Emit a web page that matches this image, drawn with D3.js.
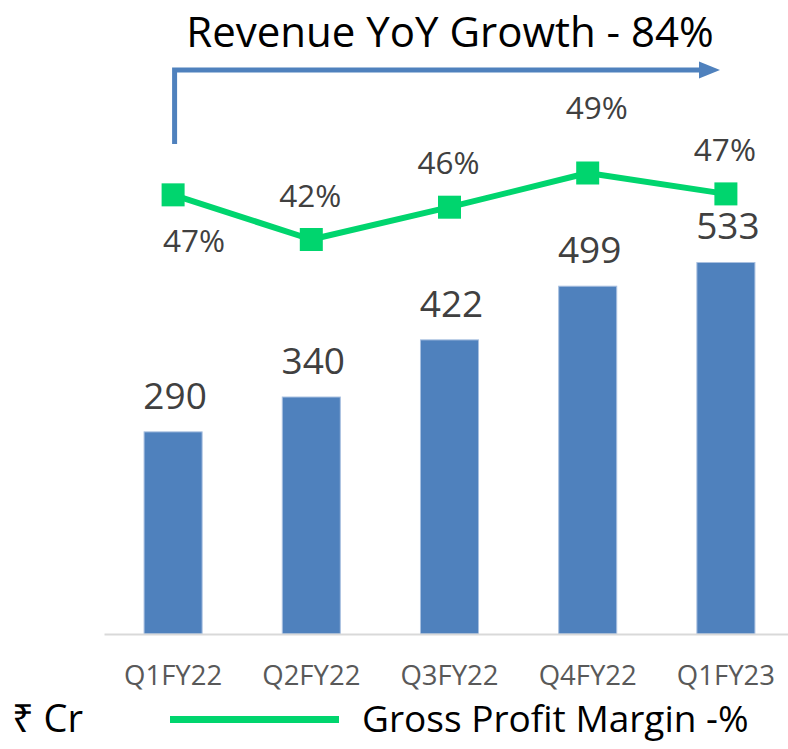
<!DOCTYPE html>
<html>
<head>
<meta charset="utf-8">
<script src="https://cdn.jsdelivr.net/npm/d3@7"></script>
<style>
  body { margin: 0; background: #fff; }
  svg { display: block; font-family: "Open Sans", "Noto Sans", "DejaVu Sans", sans-serif; }
</style>
</head>
<body>
<div id="box"></div>
<script>
// chart data
var quarters = ["Q1FY22", "Q2FY22", "Q3FY22", "Q4FY22", "Q1FY23"];
var revenue = [290, 340, 422, 499, 533];          // ₹ Cr
var grossMargin = [46.9, 42.2, 45.6, 49.2, 47.0];  // %
var titleText = "Revenue YoY Growth - 84%";
var unitText = "₹ Cr";
var legendText = "Gross Profit Margin -%";

var width = 788, height = 749;
var blue = "#4f81bd", green = "#00d56e", labelGrey = "#404040";

var svg = d3.select("#box")
    .append("svg")
    .attr("width", width)
    .attr("height", height);

// scales
var x = d3.scaleBand()
    .domain(quarters)
    .range([104, 795])
    .paddingInner(0.58)
    .paddingOuter(0.29);

var yBar = d3.scaleLinear().domain([0, 600]).range([634, 215.8]);
var yPct = d3.scaleLinear().domain([0, 60]).range([640.4, 70.4]);

var data = quarters.map(function(q, i) {
    return { q: q, rev: revenue[i], gm: grossMargin[i] };
});

// bars
svg.selectAll(".bar")
    .data(data)
    .enter()
    .append("rect")
    .attr("class", "bar")
    .attr("x", function(d) { return x(d.q); })
    .attr("y", function(d) { return yBar(d.rev); })
    .attr("width", x.bandwidth())
    .attr("height", function(d) { return yBar(0) - yBar(d.rev); })
    .attr("fill", blue)
    .attr("stroke", "#a9c0e0")
    .attr("stroke-width", 1);

// bar value labels
svg.selectAll(".bar-label")
    .data(data)
    .enter()
    .append("text")
    .attr("class", "bar-label")
    .attr("x", function(d) { return x(d.q) + x.bandwidth() / 2 + 2; })
    .attr("y", function(d) { return yBar(d.rev) - 23; })
    .attr("text-anchor", "middle")
    .attr("font-size", 37)
    .attr("fill", labelGrey)
    .text(function(d) { return d.rev; });

// x axis
var xAxis = svg.append("g")
    .attr("transform", "translate(0," + yBar(0) + ")")
    .call(d3.axisBottom(x).tickSize(0).tickSizeOuter(0).tickPadding(31));

xAxis.select(".domain")
    .attr("stroke", "#d9d9d9")
    .attr("stroke-width", 2);

xAxis.selectAll("text")
    .attr("font-family", "'Open Sans', 'Noto Sans', sans-serif")
    .attr("font-size", 27.5)
    .attr("fill", "#595959");

// gross margin line
var line = d3.line()
    .x(function(d) { return x(d.q) + x.bandwidth() / 2; })
    .y(function(d) { return yPct(d.gm); });

svg.append("path")
    .datum(data)
    .attr("d", line)
    .attr("fill", "none")
    .attr("stroke", green)
    .attr("stroke-width", 6)
    .attr("stroke-linejoin", "round");

var mk = 23;
svg.selectAll(".marker")
    .data(data)
    .enter()
    .append("rect")
    .attr("class", "marker")
    .attr("x", function(d) { return x(d.q) + x.bandwidth() / 2 - mk / 2; })
    .attr("y", function(d) { return yPct(d.gm) - mk / 2; })
    .attr("width", mk)
    .attr("height", mk)
    .attr("fill", green);

// percent labels - sit above the marker, a couple were moved by hand in the original
var nudge = { "Q1FY22": [21, 57], "Q4FY22": [9, -54] };
svg.selectAll(".pct-label")
    .data(data)
    .enter()
    .append("text")
    .attr("class", "pct-label")
    .attr("x", function(d) {
        var dx = nudge[d.q] ? nudge[d.q][0] : -1;
        return x(d.q) + x.bandwidth() / 2 + dx;
    })
    .attr("y", function(d) {
        var dy = nudge[d.q] ? nudge[d.q][1] : -33;
        return yPct(d.gm) + dy;
    })
    .attr("text-anchor", "middle")
    .attr("font-size", 31.5)
    .attr("fill", labelGrey)
    .text(function(d) { return Math.round(d.gm) + "%"; });

// growth arrow + title
var arrowX0 = x(quarters[0]) + x.bandwidth() / 2 + 1.5;
var arrowY = 70;
svg.append("path")
    .attr("d", "M" + arrowX0 + ",144 V" + arrowY + " H701")
    .attr("fill", "none")
    .attr("stroke", blue)
    .attr("stroke-width", 5);

svg.append("path")
    .attr("d", "M699," + (arrowY - 8.5) + " L720," + arrowY + " L699," + (arrowY + 8.5) + " Z")
    .attr("fill", blue);

svg.append("text")
    .attr("x", 450)
    .attr("y", 47)
    .attr("text-anchor", "middle")
    .attr("font-size", 42)
    .attr("fill", "#000")
    .text(titleText);

// legend
svg.append("text")
    .attr("x", 12)
    .attr("y", 732)
    .attr("font-size", 38)
    .attr("fill", "#000")
    .text(unitText);

svg.append("line")
    .attr("x1", 170)
    .attr("x2", 339)
    .attr("y1", 719.5)
    .attr("y2", 719.5)
    .attr("stroke", green)
    .attr("stroke-width", 7);

svg.append("text")
    .attr("x", 362)
    .attr("y", 732)
    .attr("font-size", 37)
    .attr("fill", "#000")
    .text(legendText);
</script>
</body>
</html>
